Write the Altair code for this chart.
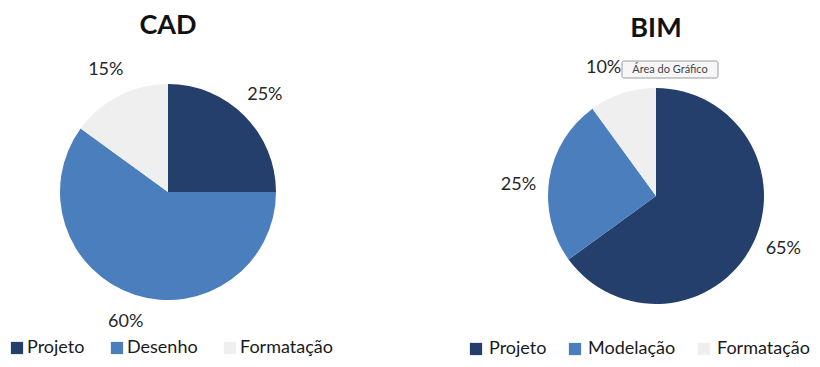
import altair as alt
import pandas as pd

# ---- data ----
cad_title = "CAD"
cad_categories = ["Projeto", "Desenho", "Formatação"]
cad_values = [25, 60, 15]

bim_title = "BIM"
bim_categories = ["Projeto", "Modelação", "Formatação"]
bim_values = [65, 25, 10]

tooltip_text = ["Área do Gráfico"]

colors = ["#243f6b", "#4a7ebd", "#efefef"]
FONT = "Lato"
PANEL_H = 350


def pie_panel(title, categories, values, cx, cy, ty, panel_w, legend_x, legend_y,
              col_pad, label_off, label_r, theta_off=0.0, extra=None):
    df = pd.DataFrame({
        "cat": categories,
        "value": values,
        "idx": list(range(len(categories))),
        "label": [f"{v}%" for v in values],
    })
    base = alt.Chart(df)
    arc = base.mark_arc(radius=108).encode(
        theta=alt.Theta("value:Q", stack=True),
        order=alt.Order("idx:Q"),
        color=alt.Color(
            "cat:N",
            scale=alt.Scale(domain=categories, range=colors),
            legend=alt.Legend(
                title=None, orient="none", legendX=legend_x, legendY=legend_y,
                direction="horizontal", symbolType="square", symbolSize=150,
                symbolStrokeWidth=0, labelFont=FONT, labelFontSize=18,
                labelColor="#1a1a1a", labelOffset=label_off, columnPadding=col_pad,
                labelLimit=200,
            ),
        ),
        x=alt.value(cx),
        y=alt.value(cy),
    )
    labels = base.mark_text(radius=label_r, thetaOffset=theta_off, font=FONT,
                            fontSize=18, color="#262626").encode(
        theta=alt.Theta("value:Q", stack=True),
        order=alt.Order("idx:Q"),
        text="label:N",
        x=alt.value(cx),
        y=alt.value(cy),
    )
    tdf = pd.DataFrame({"t": [title]})
    ttl = alt.Chart(tdf).mark_text(font=FONT, fontSize=27, fontWeight="bold",
                                   color="#111111", baseline="middle").encode(
        text="t:N", x=alt.value(cx), y=alt.value(ty)
    )
    layers = [arc, labels, ttl]
    if extra is not None:
        layers += extra
    return alt.layer(*layers).properties(width=panel_w, height=PANEL_H)


# tooltip-like box in BIM panel
tip_df = pd.DataFrame({"t": tooltip_text})
tip_box = alt.Chart(tip_df).mark_rect(
    fill="#f6f6f9", stroke="#9a9a9a", strokeWidth=1, cornerRadius=2
).encode(x=alt.value(212), x2=alt.value(308), y=alt.value(53), y2=alt.value(70))
tip_txt = alt.Chart(tip_df).mark_text(font=FONT, fontSize=11, color="#444444").encode(
    text="t:N", x=alt.value(260), y=alt.value(62)
)

left = pie_panel(cad_title, cad_categories, cad_values, cx=160, cy=184, ty=18,
                 panel_w=402, legend_x=0, legend_y=331, col_pad=23, label_off=1,
                 label_r=137)
right = pie_panel(bim_title, bim_categories, bim_values, cx=246, cy=188, ty=21,
                  panel_w=402, legend_x=57, legend_y=332, col_pad=19, label_off=4,
                  label_r=138, theta_off=-0.075, extra=[tip_box, tip_txt])

chart = alt.hconcat(left, right, spacing=0).resolve_scale(
    color="independent", theta="independent"
).resolve_legend(color="independent").properties(
    padding=0
).configure_view(stroke=None)

chart.save("out.html", embed_options={"renderer": "svg", "actions": False})
